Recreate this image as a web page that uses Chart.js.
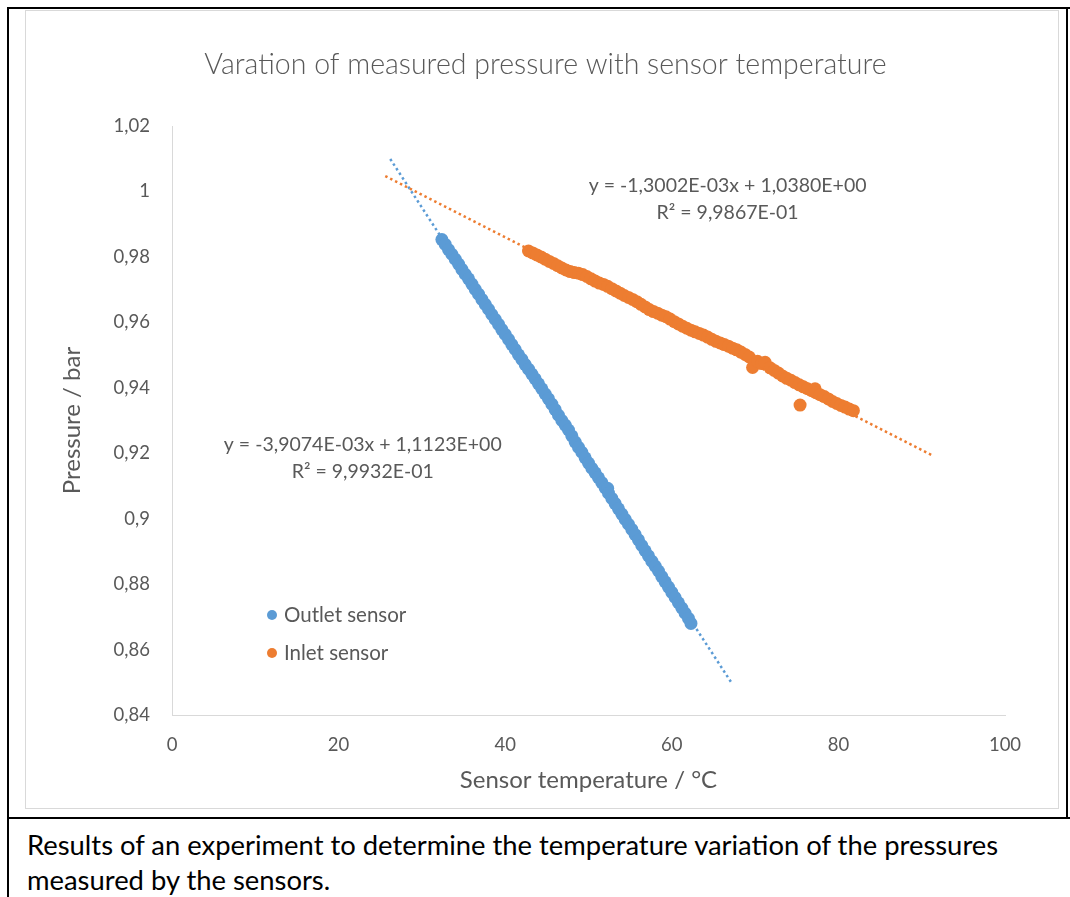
<!DOCTYPE html>
<html>
<head>
<meta charset="utf-8">
<script src="https://cdn.jsdelivr.net/npm/chart.js@4.4.1/dist/chart.umd.min.js"></script>
<style>
  html, body { margin: 0; padding: 0; background: #fff; }
  body { width: 1070px; height: 897px; position: relative; overflow: hidden; font-family: Lato, "Open Sans", sans-serif; }
  .bl { position: absolute; background: #000; }
  #frame { position: absolute; left: 25px; top: 10px; width: 1032px; height: 797px; border: 1px solid #d9d9d9; }
  #chart { position: absolute; left: 26px; top: 11px; }
  #caption { position: absolute; left: 27px; top: 827px; font-size: 27.4px; line-height: 35px; color: #000; }
</style>
</head>
<body>
<div class="bl" style="left:7px;top:7px;width:1063px;height:2px"></div>
<div class="bl" style="left:7px;top:7px;width:2px;height:890px"></div>
<div class="bl" style="left:1066px;top:7px;width:2px;height:812px"></div>
<div class="bl" style="left:7px;top:817px;width:1063px;height:2px"></div>
<div id="frame"></div>
<canvas id="chart" width="1031" height="796"></canvas>
<div id="caption">Results of an experiment to determine the temperature variation of the pressures<br>measured by the sensors.</div>

<script>
// Outlet sensor readings (temperature in °C, pressure in bar)
const outletTemp = [
  32.4, 32.8, 33.2, 33.6, 34.0, 34.4, 34.8, 35.2, 35.6, 36.0,
  36.4, 36.8, 37.2, 37.6, 38.0, 38.4, 38.8, 39.2, 39.6, 40.0,
  40.4, 40.8, 41.2, 41.6, 42.0, 42.4, 42.8, 43.2, 43.6, 44.0,
  44.4, 44.8, 45.2, 45.6, 46.0, 46.4, 46.8, 47.2, 47.6, 48.0,
  48.4, 48.8, 49.2, 49.6, 50.0, 50.4, 50.8, 51.2, 51.6, 52.0,
  52.3, 52.4, 52.8, 53.2, 53.6, 54.0, 54.4, 54.8, 55.2, 55.6,
  56.0, 56.4, 56.8, 57.2, 57.6, 58.0, 58.4, 58.8, 59.2, 59.6,
  60.0, 60.4, 60.8, 61.2, 61.6, 62.0, 62.3
];
const outletPressure = [
  0.9853, 0.9838, 0.9822, 0.9808, 0.9793, 0.9778, 0.9762, 0.9747, 0.9733, 0.9717,
  0.9701, 0.9686, 0.9670, 0.9655, 0.9640, 0.9624, 0.9609, 0.9594, 0.9578, 0.9563,
  0.9548, 0.9532, 0.9517, 0.9501, 0.9487, 0.9471, 0.9457, 0.9442, 0.9427, 0.9412,
  0.9397, 0.9381, 0.9366, 0.9350, 0.9333, 0.9316, 0.9300, 0.9286, 0.9271, 0.9253,
  0.9234, 0.9218, 0.9203, 0.9186, 0.9170, 0.9154, 0.9140, 0.9125, 0.9110, 0.9094,
  0.9093, 0.9078, 0.9062, 0.9046, 0.9030, 0.9014, 0.8998, 0.8983, 0.8967, 0.8951,
  0.8935, 0.8918, 0.8902, 0.8886, 0.8870, 0.8855, 0.8840, 0.8823, 0.8807, 0.8791,
  0.8775, 0.8759, 0.8743, 0.8727, 0.8711, 0.8695, 0.8680
];

// Inlet sensor readings
const inletTemp = [
  42.8, 43.3, 43.8, 44.3, 44.8, 45.3, 45.8, 46.3, 46.8, 47.3,
  47.8, 48.3, 48.8, 49.3, 49.8, 50.3, 50.8, 51.3, 51.8, 52.3,
  52.8, 53.3, 53.8, 54.3, 54.8, 55.3, 55.8, 56.3, 56.8, 57.3,
  57.8, 58.3, 58.8, 59.3, 59.8, 60.3, 60.8, 61.3, 61.8, 62.3,
  62.8, 63.3, 63.8, 64.3, 64.8, 65.3, 65.8, 66.3, 66.8, 67.3,
  67.8, 68.3, 68.8, 69.3, 69.7, 70.3, 70.8, 71.2, 71.8, 72.3,
  72.8, 73.3, 73.8, 74.3, 74.8, 75.3, 75.4, 75.8, 76.3, 76.8,
  77.2, 77.3, 77.8, 78.3, 78.8, 79.3, 79.8, 80.3, 80.8, 81.3,
  81.8
];
const inletPressure = [
  0.9818, 0.9812, 0.9806, 0.9800, 0.9793, 0.9786, 0.9780, 0.9773, 0.9766, 0.9760,
  0.9755, 0.9752, 0.9750, 0.9746, 0.9740, 0.9733, 0.9726, 0.9720, 0.9716, 0.9710,
  0.9703, 0.9696, 0.9689, 0.9682, 0.9676, 0.9670, 0.9663, 0.9655, 0.9647, 0.9639,
  0.9633, 0.9628, 0.9622, 0.9617, 0.9610, 0.9602, 0.9595, 0.9588, 0.9582, 0.9576,
  0.9571, 0.9566, 0.9561, 0.9555, 0.9548, 0.9542, 0.9537, 0.9532, 0.9527, 0.9521,
  0.9516, 0.9509, 0.9502, 0.9494, 0.9462, 0.9481, 0.9474, 0.9478, 0.9461, 0.9453,
  0.9445, 0.9436, 0.9429, 0.9423, 0.9416, 0.9409, 0.9347, 0.9403, 0.9397, 0.9391,
  0.9397, 0.9385, 0.9379, 0.9373, 0.9366, 0.9358, 0.9352, 0.9346, 0.9341, 0.9335,
  0.9330
];

// Linear trendlines as printed on the chart (slope, intercept) and the x span they cover
const outletFit = { slope: -3.9074e-3, intercept: 1.1123, from: 26.2, to: 67.1 };
const inletFit  = { slope: -1.3002e-3, intercept: 1.0380, from: 25.6, to: 91.4 };

const outletLabel = ['y = -3,9074E-03x + 1,1123E+00', 'R² = 9,9932E-01'];
const inletLabel  = ['y = -1,3002E-03x + 1,0380E+00', 'R² = 9,9867E-01'];

// Axis ticks
const xTicks = [0, 20, 40, 60, 80, 100];
const yTicks = [0.84, 0.86, 0.88, 0.9, 0.92, 0.94, 0.96, 0.98, 1, 1.02];

const BLUE = '#5b9bd5';
const ORANGE = '#ed7d31';
const TEXT = '#595959';

function zip(xs, ys) {
  return xs.map((x, i) => ({ x: x, y: ys[i] }));
}

function trend(fit) {
  return [
    { x: fit.from, y: fit.slope * fit.from + fit.intercept },
    { x: fit.to, y: fit.slope * fit.to + fit.intercept }
  ];
}

function fmt(v) {
  return String(Math.round(v * 100) / 100).replace('.', ',');
}

// Equation text next to each trendline, anchored in data units
const equationLabels = {
  id: 'equationLabels',
  afterDatasetsDraw(chart) {
    const { ctx, scales: { x, y } } = chart;
    const items = [
      { lines: inletLabel, cx: 66.7, cy: 1.0017 },
      { lines: outletLabel, cx: 22.9, cy: 0.9225 }
    ];
    ctx.save();
    ctx.font = '19.5px Lato';
    ctx.fillStyle = TEXT;
    ctx.textAlign = 'center';
    ctx.textBaseline = 'middle';
    items.forEach(it => {
      const px = x.getPixelForValue(it.cx);
      const py = y.getPixelForValue(it.cy);
      it.lines.forEach((t, i) => ctx.fillText(t, px, py + i * 27));
    });
    ctx.restore();
  }
};

// Legend sitting inside the plot, lower left
const insideLegend = {
  id: 'insideLegend',
  afterDatasetsDraw(chart) {
    const { ctx, chartArea } = chart;
    const left = chartArea.left + 100;
    let top = chartArea.bottom - 100;
    ctx.save();
    ctx.font = '20.5px Lato';
    ctx.textBaseline = 'middle';
    ctx.textAlign = 'left';
    chart.data.datasets.filter(d => !d.isTrend).forEach(d => {
      ctx.fillStyle = d.backgroundColor;
      ctx.beginPath();
      ctx.arc(left, top, 5, 0, Math.PI * 2);
      ctx.fill();
      ctx.fillStyle = TEXT;
      ctx.fillText(d.label, left + 12, top);
      top += 38;
    });
    ctx.restore();
  }
};

Chart.defaults.font.family = 'Lato';
Chart.defaults.color = TEXT;

const ctx = document.getElementById('chart').getContext('2d');

new Chart(ctx, {
  type: 'scatter',
  data: {
    datasets: [
      {
        label: 'Outlet sensor',
        data: zip(outletTemp, outletPressure),
        backgroundColor: BLUE,
        borderWidth: 0,
        pointRadius: 6.5,
        order: 0
      },
      {
        label: 'Inlet sensor',
        data: zip(inletTemp, inletPressure),
        backgroundColor: ORANGE,
        borderWidth: 0,
        pointRadius: 6.5,
        order: 0
      },
      {
        label: 'Outlet trend',
        isTrend: true,
        data: trend(outletFit),
        showLine: true,
        pointRadius: 0,
        borderColor: BLUE,
        borderWidth: 2.5,
        borderDash: [2.5, 3],
        order: 2
      },
      {
        label: 'Inlet trend',
        isTrend: true,
        data: trend(inletFit),
        showLine: true,
        pointRadius: 0,
        borderColor: ORANGE,
        borderWidth: 2.5,
        borderDash: [2.5, 3],
        order: 1
      }
    ]
  },
  options: {
    responsive: false,
    animation: false,
    devicePixelRatio: 1,
    layout: {
      padding: { left: 60, right: 52, top: 0, bottom: 0 }
    },
    scales: {
      x: {
        type: 'linear',
        min: 0,
        max: 100,
        afterBuildTicks: axis => { axis.ticks = xTicks.map(v => ({ value: v })); },
        afterFit: axis => { axis.height = 92; },
        grid: { display: false, drawTicks: false },
        border: { display: true, color: '#d9d9d9', width: 1 },
        ticks: { color: TEXT, font: { size: 18.5 }, padding: 19 },
        title: {
          display: true,
          text: 'Sensor temperature / °C',
          color: TEXT,
          font: { size: 24 },
          padding: { top: 4, bottom: 12.6 }
        }
      },
      y: {
        type: 'linear',
        min: 0.84,
        max: 1.02,
        afterBuildTicks: axis => { axis.ticks = yTicks.map(v => ({ value: v })); },
        afterFit: axis => { axis.width = 86; },
        grid: { display: false, drawTicks: false },
        border: { display: true, color: '#d9d9d9', width: 1 },
        ticks: { color: TEXT, font: { size: 18.5 }, padding: 22, callback: v => fmt(v) },
        title: {
          display: true,
          text: 'Pressure / bar',
          color: TEXT,
          font: { size: 24 },
          padding: { top: -28.4, bottom: 4 }
        }
      }
    },
    plugins: {
      legend: { display: false },
      tooltip: { enabled: false },
      title: {
        display: true,
        text: 'Varation of measured pressure with sensor temperature',
        color: TEXT,
        font: { size: 28.5, weight: 300 },
        padding: { top: 36.9, bottom: 43.9 }
      }
    }
  },
  plugins: [equationLabels, insideLegend]
});
</script>
</body>
</html>
